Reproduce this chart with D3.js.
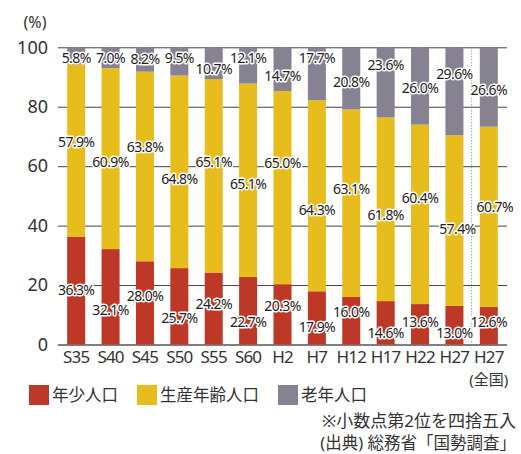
<!DOCTYPE html>
<html>
<head>
<meta charset="utf-8">
<title>年齢3区分別人口割合</title>
<script src="https://cdn.jsdelivr.net/npm/d3@7/dist/d3.min.js"></script>
<style>
  body { margin: 0; background: #fff; }
  svg { display: block; font-family: "Noto Sans", "Noto Sans CJK JP", sans-serif; }
  .lbl { font-size: 14px; letter-spacing: -0.6px; fill: #222; stroke: #fff; stroke-width: 3px; paint-order: stroke; stroke-linejoin: round; }
</style>
</head>
<body>
<svg width="521" height="454" class="chart"></svg>
<script>
// data
const years = ['S35','S40','S45','S50','S55','S60','H2','H7','H12','H17','H22','H27','H27全国']
const youth   = [36.3, 32.1, 28.0, 25.7, 24.2, 22.7, 20.3, 17.9, 16.0, 14.6, 13.6, 13.0, 12.6]
const working = [57.9, 60.9, 63.8, 64.8, 65.1, 65.1, 65.0, 64.3, 63.1, 61.8, 60.4, 57.4, 60.7]
const elderly = [5.8, 7.0, 8.2, 9.5, 10.7, 12.1, 14.7, 17.7, 20.8, 23.6, 26.0, 29.6, 26.6]
const yTicks = [0, 20, 40, 60, 80, 100]
const seriesNames = ['年少人口', '生産年齢人口', '老年人口']
const colors = ['#bd3826', '#e6bd1c', '#868292']

// label positions (value units, where the label sits on the chart)
const youthLblY   = [18.2, 11.7, 16.3, 8.8, 13.6, 7.4, 13.0, 6.0, 10.8, 4.0, 7.6, 3.8, 7.6]
const workingLblY = [68.0, 61.5, 66.3, 55.7, 61.5, 54.0, 61.1, 45.3, 52.2, 43.6, 49.3, 38.7, 46.1]
const elderlyLblY = [96.2, 96.2, 96.0, 96.2, 92.8, 96.2, 90.2, 96.2, 88.2, 94.0, 86.2, 91.1, 85.7]

var svg = d3.select('.chart')

var x = d3.scaleBand()
  .domain(years)
  .range([59, 506])
  .paddingInner(0.476)
  .paddingOuter(0.238)

var y = d3.scaleLinear()
  .domain([0, 100])
  .range([344.5, 47.3])

// gridlines
svg.append('g').selectAll('line')
  .data(yTicks)
  .enter().append('line')
  .attr('x1', 58).attr('x2', 507)
  .attr('y1', d => y(d) + 0.5).attr('y2', d => y(d) + 0.5)
  .attr('stroke', d => d == 0 ? '#555' : '#444')
  .attr('stroke-width', d => d == 0 ? 1.5 : 1)

// tick labels
svg.append('g').selectAll('text')
  .data(yTicks)
  .enter().append('text')
  .attr('x', 48).attr('y', d => y(d))
  .attr('dy', '0.35em')
  .attr('text-anchor', 'end')
  .attr('font-size', 18)
  .attr('fill', '#333')
  .text(d => d)

svg.append('text')
  .attr('x', 35).attr('y', 22).attr('dy', '0.35em')
  .attr('text-anchor', 'middle')
  .attr('font-size', 16).attr('fill', '#333')
  .text('(%)')

// stacked bars
var rows = years.map((k, i) => ({ key: k, y: youth[i], w: working[i], e: elderly[i] }))
var stack = d3.stack().keys(['y', 'w', 'e'])
var layers = stack(rows)

svg.append('g').selectAll('g')
  .data(layers)
  .enter().append('g')
  .attr('fill', (d, i) => colors[i])
  .selectAll('rect')
  .data(d => d)
  .enter().append('rect')
  .attr('x', d => x(d.data.key))
  .attr('width', x.bandwidth())
  .attr('y', d => y(Math.min(d[1], 100)))
  .attr('height', d => y(d[0]) - y(Math.min(d[1], 100)))

// dotted separator before national bar
var sepX = (x('H27') + x.bandwidth() + x('H27全国')) / 2
svg.append('line')
  .attr('x1', sepX).attr('x2', sepX)
  .attr('y1', y(100)).attr('y2', y(0))
  .attr('stroke', '#777')
  .attr('stroke-dasharray', '1,2')

// value labels
var labelSets = [[youth, youthLblY], [working, workingLblY], [elderly, elderlyLblY]]
var lblG = svg.append('g')
labelSets.forEach(function(s) {
  lblG.selectAll(null)
    .data(years)
    .enter().append('text')
    .attr('class', 'lbl')
    .attr('x', (d, i) => x(d) + x.bandwidth() / 2 + (d == 'H27全国' && s[0] == working ? 6 : 0) + (d == 'H27' && s[0] == working ? 3 : 0))
    .attr('y', (d, i) => y(s[1][i]))
    .attr('dy', '0.35em')
    .attr('text-anchor', 'middle')
    .text((d, i) => s[0][i].toFixed(1) + '%')
})

// x labels
svg.append('g').selectAll('text')
  .data(years)
  .enter().append('text')
  .attr('x', d => x(d) + x.bandwidth() / 2)
  .attr('y', 357).attr('dy', '0.35em')
  .attr('text-anchor', 'middle')
  .attr('font-size', 17)
  .attr('letter-spacing', '-0.8px')
  .attr('fill', '#333')
  .text(d => d.replace('全国', ''))

svg.append('text')
  .attr('x', x('H27全国') + x.bandwidth() / 2)
  .attr('y', 380).attr('dy', '0.35em')
  .attr('text-anchor', 'middle')
  .attr('font-size', 15)
  .attr('fill', '#333')
  .text('(全国)')

// legend
var legendX = [29, 137, 278]
var leg = svg.append('g').selectAll('g')
  .data(seriesNames)
  .enter().append('g')
  .attr('transform', (d, i) => 'translate(' + legendX[i] + ',385)')
leg.append('rect')
  .attr('width', 20).attr('height', 20)
  .attr('fill', (d, i) => colors[i])
leg.append('text')
  .attr('x', 23).attr('y', 10).attr('dy', '0.35em')
  .attr('font-size', 16.5)
  .attr('fill', '#333')
  .text(d => d)

// notes
svg.append('text')
  .attr('x', 516).attr('y', 421).attr('dy', '0.35em')
  .attr('text-anchor', 'end')
  .attr('font-size', 17)
  .attr('fill', '#333')
  .text('※小数点第2位を四捨五入')

svg.append('text')
  .attr('x', 516).attr('y', 443).attr('dy', '0.35em')
  .attr('text-anchor', 'end')
  .attr('font-size', 16.5)
  .attr('fill', '#333')
  .text('(出典)  総務省「国勢調査」')
</script>
</body>
</html>
